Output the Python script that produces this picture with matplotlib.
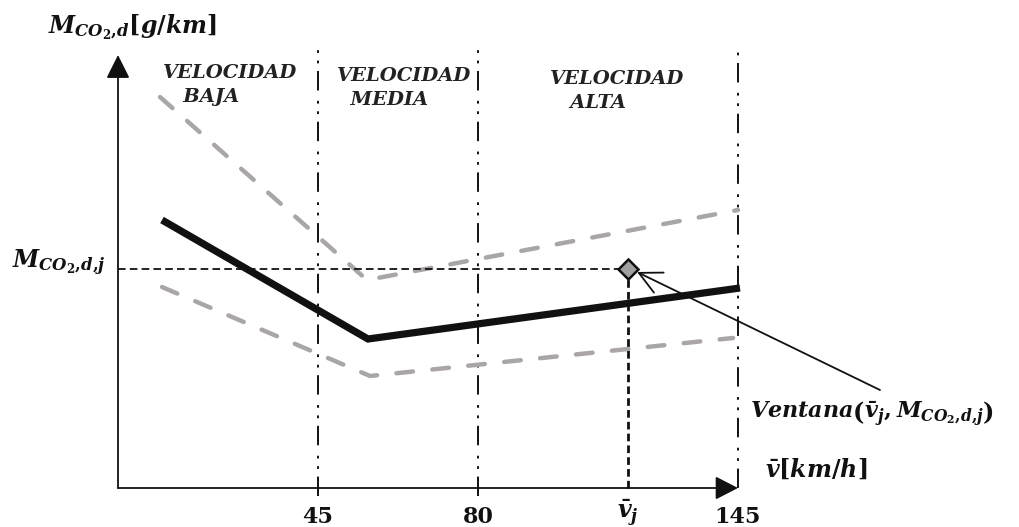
import matplotlib
matplotlib.use("Agg")
import matplotlib.pyplot as plt
from matplotlib.patches import FancyArrowPatch

plt.rcParams['mathtext.fontset'] = 'custom'
plt.rcParams['mathtext.rm'] = 'DejaVu Serif:bold'
plt.rcParams['mathtext.bf'] = 'DejaVu Serif:bold'
plt.rcParams['mathtext.it'] = 'DejaVu Serif:italic:bold'
plt.rcParams['lines.scale_dashes'] = False

# schematic coordinates (speed axis, emission axis), origin at the axes corner
zone_x = [200, 360, 620]
zone_labels = ["45", "80", "145"]
zone_names = ["VELOCIDAD\n   BAJA", "VELOCIDAD\n  MEDIA", "VELOCIDAD\n   ALTA"]

mean_x = [44, 250, 622]
mean_y = [268, 149, 200]
upper_x = [42, 249, 620]
upper_y = [391, 208, 278]
lower_x = [44, 252, 615]
lower_y = [201, 112, 150]

vj_x = 510
mj_y = 219

fig = plt.figure(figsize=(10.2, 5.27), dpi=100)
ax = fig.add_axes([0, 0, 1, 1])
ax.set_xlim(-118, 902)
ax.set_ylim(-39, 488)
ax.axis('off')

# axes with arrows
ax.add_patch(FancyArrowPatch((0, 0), (0, 433), arrowstyle='-|>,head_length=0.72,head_width=0.36',
                             mutation_scale=20, lw=1.3, color='#111111', shrinkA=0, shrinkB=0))
ax.add_patch(FancyArrowPatch((0, 0), (620, 0), arrowstyle='-|>,head_length=0.7,head_width=0.36',
                             mutation_scale=20, lw=1.3, color='#111111', shrinkA=0, shrinkB=0))

# zone boundaries
dd = (0, (14, 5.5, 2, 5.5, 2, 7.5))
for i, x in enumerate(zone_x):
    bottom = -8 if i < 2 else 0
    ax.plot([x, x], [bottom, 438], color='#111111', lw=1.4, linestyle=dd)
    ax.text(x, -35, zone_labels[i], ha='center', va='baseline', fontsize=16,
            fontfamily='DejaVu Serif', fontweight='bold', color='#111111')

# region names
name_pos = [(45, 386), (219, 383), (432, 380)]
for (x, y), name in zip(name_pos, zone_names):
    ax.text(x, y, name, ha='left', va='baseline', fontsize=14, fontfamily='DejaVu Serif',
            fontweight='bold', fontstyle='italic', color='#222222', linespacing=1.45)

# curves
ax.plot(upper_x, upper_y, color='#aaa6a6', lw=3.2, linestyle=(0, (12, 14)),
        dash_capstyle='round', solid_joinstyle='round')
ax.plot(lower_x, lower_y, color='#aaa6a6', lw=3.2, linestyle=(0, (12, 14)),
        dash_capstyle='round', solid_joinstyle='round')
ax.plot(mean_x, mean_y, color='#111111', lw=5.2, solid_capstyle='butt', solid_joinstyle='miter')

# reference point
ax.plot([0, vj_x], [mj_y, mj_y], color='#111111', lw=1.3, linestyle=(0, (5.5, 3)))
ax.plot([vj_x, vj_x], [0, mj_y], color='#111111', lw=2, linestyle=(0, (5.5, 3)))
ax.plot([vj_x], [mj_y], marker='D', ms=10, mfc='#a0a0a0', mec='#111111', mew=1.8)

ax.add_patch(FancyArrowPatch((762, 98), (519, 216), arrowstyle='->,head_length=0.8,head_width=0.4',
                             mutation_scale=20, lw=1.3, color='#111111', shrinkA=0, shrinkB=0))

# labels
ax.text(-70, 455, r'$M_{CO_2{,}d}[g/km]$', ha='left', va='baseline', fontsize=17, color='#111111')
ax.text(-106, 220, r'$M_{CO_2{,}d{,}j}$', ha='left', va='baseline', fontsize=17, color='#111111')
ax.text(632, 70, r'$Ventana\left(\bar{v}_j,M_{CO_2{,}d{,}j}\right)$', ha='left', va='baseline',
        fontsize=16, color='#111111')
ax.text(647, 11, r'$\bar{v}[km/h]$', ha='left', va='baseline', fontsize=17, color='#111111')
ax.text(vj_x, -30, r'$\bar{v}_j$', ha='center', va='baseline', fontsize=17, color='#111111')

fig.savefig('out.png', dpi=100)
